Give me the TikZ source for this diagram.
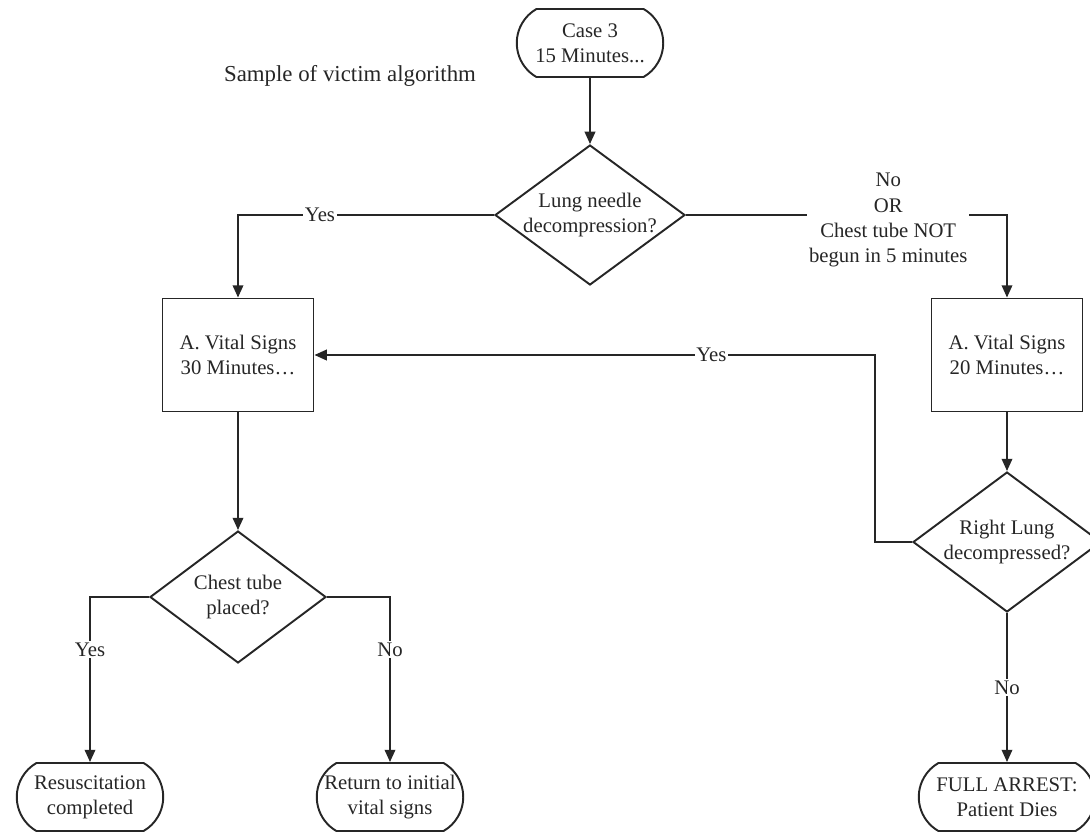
\documentclass[tikz,border=0pt]{standalone}
\usepackage{fontspec}
\setmainfont{Liberation Serif}
\usetikzlibrary{shapes.geometric, shapes.misc, arrows.meta}

\begin{document}
\begin{tikzpicture}[x=0.02cm, y=-0.02cm, line width=1.1pt, color=black!85,
        >={Triangle[length=7pt,width=6pt]},
        font=\fontsize{11.8}{14.4}\selectfont,
        term/.style={draw, rounded rectangle, rounded rectangle arc length=120,
            minimum width=3cm, minimum height=1.36cm, align=center, inner sep=1pt},
        vbox/.style={draw, rectangle, minimum width=3.02cm, minimum height=2.26cm, align=center},
        decision/.style={draw, diamond, inner xsep=-0.5cm, inner ysep=0pt, align=center},
        lbl/.style={fill=white, inner sep=1pt, align=center}]
        \useasboundingbox (0,0) rectangle (1090,833);

        \node[term] (start) at (590,43) {Case 3\\15 Minutes...};
        \node[font=\fontsize{13}{15}\selectfont] (title) at (350,76) {Sample of victim algorithm};
        \node[decision, minimum width=3.8cm, minimum height=2.8cm] (lung) at (590,215) {Lung needle\\decompression?};
        \node[vbox] (vs30) at (238,355) {A. Vital Signs\\30 Minutes\dots};
        \node[vbox] (vs20) at (1007,355) {A. Vital Signs\\20 Minutes\dots};
        \node[decision, minimum width=3.76cm, minimum height=2.8cm] (rlung) at (1007,542) {Right Lung\\decompressed?};
        \node[decision, minimum width=3.52cm, minimum height=2.64cm] (chest) at (238,597) {Chest tube\\placed?};
        \node[term] (resus) at (90,797) {Resuscitation\\completed};
        \node[term] (return) at (390,797) {Return to initial\\vital signs};
        \node[term, minimum width=3.6cm] (arrest) at (1007,797) {FULL ARREST:\\Patient Dies};

        \draw[->] (start) -- (lung);
        \draw[->] (lung.west) -| node[lbl, pos=0.34] {Yes} (vs30.north);
        \draw[->] (lung.east) -| node[lbl, pos=0.315, yshift=-3pt] {No\\OR\\Chest tube NOT\\begun in 5 minutes} (vs20.north);
        \draw[->] (vs30) -- (chest);
        \draw[->] (vs20) -- (rlung);
        \draw[->] (rlung.west) -- ++(-37,0) |- node[lbl, pos=0.646] {Yes} (vs30.east);
        \draw[->] (chest.west) -| node[lbl, pos=0.66] {Yes} (resus.north);
        \draw[->] (chest.east) -| node[lbl, pos=0.66] {No} (return.north);
        \draw[->] (rlung.south) -- node[lbl] {No} (arrest.north);
    \end{tikzpicture}
\end{document}
